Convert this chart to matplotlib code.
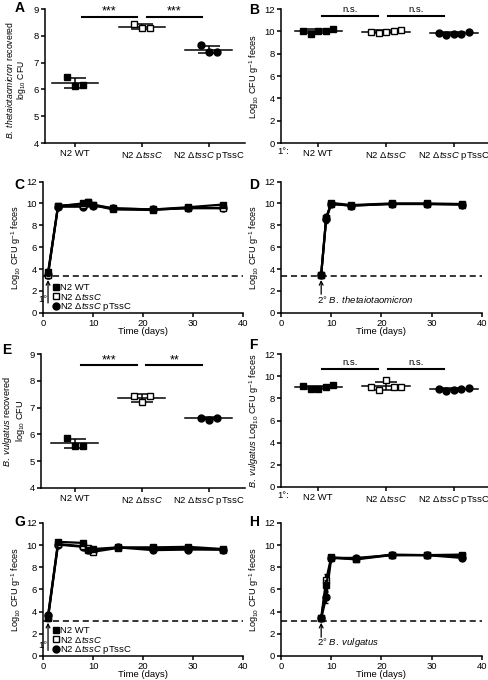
import numpy as np
import matplotlib
matplotlib.use("Agg")
import matplotlib.pyplot as plt
from matplotlib.lines import Line2D

plt.rcParams['font.family'] = ['Liberation Sans', 'DejaVu Sans']
plt.rcParams['mathtext.fontset'] = 'custom'
plt.rcParams['mathtext.rm'] = 'Liberation Sans'
plt.rcParams['mathtext.it'] = 'Liberation Sans:italic'
plt.rcParams['font.size'] = 6.8
plt.rcParams['axes.linewidth'] = 1.1
plt.rcParams['xtick.major.width'] = 1.1
plt.rcParams['ytick.major.width'] = 1.1
plt.rcParams['xtick.major.size'] = 3
plt.rcParams['ytick.major.size'] = 3
plt.rcParams['xtick.major.pad'] = 1.5
plt.rcParams['ytick.major.pad'] = 1.5

# ---------------- data ----------------
groups = ["N2 WT", r"N2 Δ$\it{tssC}$", r"N2 Δ$\it{tssC}$ pTssC"]

# Panel A: B. theta recovered (log10 CFU)
A_wt = [6.47, 6.12, 6.16]
A_dtssc = [8.45, 8.29, 8.29]
A_ptssc = [7.64, 7.40, 7.41]

# Panel B: log10 CFU/g feces, 1° colonizer
B_wt = [10.05, 9.75, 10.0, 10.05, 10.2]
B_dtssc = [9.9, 9.85, 9.9, 10.0, 10.15]
B_ptssc = [9.85, 9.7, 9.75, 9.8, 9.95]

# Panel C: time course 1°
C_days = [1, 3, 8, 9, 10, 14, 22, 29, 36]
C_wt = [3.7, 9.75, 10.0, 10.15, 9.9, 9.55, 9.45, 9.65, 9.9]
C_dtssc = [3.5, 9.8, 9.9, 10.1, 9.85, 9.45, 9.4, 9.6, 9.55]
C_ptssc = [3.5, 9.7, 9.7, 10.05, 9.8, 9.55, 9.45, 9.55, 9.6]
C_err = [0.3, 0.15, 0.15, 0.1, 0.1, 0.1, 0.1, 0.1, 0.1]

# Panel D: time course 2° B. theta
D_days = [8, 9, 10, 14, 22, 29, 36]
D_wt = [3.5, 8.65, 9.95, 9.8, 9.95, 9.95, 9.9]
D_dtssc = [3.5, 8.7, 10.05, 9.85, 10.0, 10.0, 9.95]
D_ptssc = [3.5, 8.6, 9.95, 9.8, 9.95, 9.95, 9.9]
D_err = [0.1, 0.35, 0.1, 0.1, 0.05, 0.05, 0.1]

# Panel E: B. vulgatus recovered
E_wt = [5.85, 5.57, 5.57]
E_dtssc = [7.45, 7.2, 7.45]
E_ptssc = [6.63, 6.55, 6.62]

# Panel F
F_wt = [9.1, 8.84, 8.84, 9.05, 9.2]
F_dtssc = [9.05, 8.8, 9.7, 9.05, 9.05]
F_ptssc = [8.9, 8.7, 8.8, 8.85, 8.95]

# Panel G: time course 1°
G_days = [1, 3, 8, 9, 10, 15, 22, 29, 36]
G_wt = [3.5, 10.3, 10.2, 9.55, 9.65, 9.8, 9.8, 9.85, 9.65]
G_dtssc = [3.4, 10.1, 9.9, 9.7, 9.4, 9.75, 9.75, 9.7, 9.6]
G_ptssc = [3.7, 10.05, 9.85, 9.6, 9.5, 9.8, 9.55, 9.6, 9.6]
G_err = [0.2, 0.2, 0.15, 0.15, 0.15, 0.1, 0.1, 0.1, 0.1]

# Panel H: time course 2° B. vulgatus
H_days = [8, 9, 10, 15, 22, 29, 36]
H_wt = [3.4, 6.4, 8.85, 8.72, 9.1, 9.1, 9.0]
H_dtssc = [3.4, 6.9, 8.9, 8.75, 9.15, 9.1, 9.15]
H_ptssc = [3.4, 5.3, 8.85, 8.85, 9.1, 9.1, 8.85]
H_err = [0.1, 0.5, 0.1, 0.1, 0.1, 0.1, 0.1]

detect_CD = 3.35
detect_GH = 3.2

# ---------------- styling helpers ----------------
styles = [dict(marker='s', mfc='black', mec='black'),
          dict(marker='s', mfc='white', mec='black'),
          dict(marker='o', mfc='black', mec='black')]

fig = plt.figure(figsize=(4.89, 6.80), dpi=100)
YL = 6.6


def clean(ax):
    for s in ['top', 'right']:
        ax.spines[s].set_visible(False)


def dot_panel(ax, data, ylim, yticks, xlim, spread):
    for i, vals in enumerate(data):
        vals = np.asarray(vals)
        n = len(vals)
        xs = i + np.linspace(-spread, spread, n)
        ax.plot(xs, vals, ls='none', ms=5, mew=1.0, zorder=3, **styles[i])
        m = vals.mean()
        sd = vals.std(ddof=1)
        ax.plot([i - 0.35, i + 0.35], [m, m], color='black', lw=1.1, zorder=2)
        ax.errorbar(i, m, yerr=sd, color='black', lw=1.1, capsize=8,
                    capthick=1.1, zorder=2)
    ax.set_xlim(*xlim)
    ax.set_ylim(*ylim)
    ax.set_yticks(yticks)
    ax.set_xticks(range(3))
    ax.set_xticklabels(groups)
    clean(ax)


def sig(ax, x0, x1, y, label, dy):
    ax.plot([x0, x1], [y, y], color='black', lw=1.5, clip_on=False)
    ax.text((x0 + x1) / 2, y + dy, label, ha='center', va='bottom',
            fontsize=6.8 if label == 'n.s.' else 9, clip_on=False)


def time_panel(ax, days, series, err, detect):
    for i, vals in enumerate(series):
        ax.errorbar(days, vals, yerr=err, color='black', lw=1.6,
                    ms=5, mew=1.0, capsize=1.5, zorder=3 + (2 - i),
                    **styles[i])
    ax.axhline(detect, color='black', ls=(0, (4, 2.5)), lw=1.1, zorder=1)
    ax.set_xlim(0, 40)
    ax.set_ylim(0, 12)
    ax.set_xticks([0, 10, 20, 30, 40])
    ax.set_yticks([0, 2, 4, 6, 8, 10, 12])
    ax.set_xlabel('Time (days)', labelpad=-1)
    clean(ax)


def legend(ax):
    handles = [Line2D([], [], ls='none', ms=5, color='black', **styles[i])
               for i in range(3)]
    ax.legend(handles, groups, loc='lower left', bbox_to_anchor=(0.045, -0.01),
              frameon=False, handlelength=0.6, handletextpad=0.15,
              labelspacing=-0.15, borderaxespad=0.0, borderpad=0.1,
              fontsize=6.8)


ylab_feces = r'Log$_{10}$ CFU g$^{-1}$ feces'

# ---------- A ----------
axA = fig.add_axes([0.092, 0.7897, 0.409, 0.197])
dot_panel(axA, [A_wt, A_dtssc, A_ptssc], (4, 9), [4, 5, 6, 7, 8, 9],
          (-0.45, 2.54), 0.12)
axA.set_ylabel(r'$\it{B.\ thetaiotaomicron}$ recovered' + '\n' + r'log$_{10}$ CFU',
               labelpad=2, fontsize=6.2, linespacing=0.95)
axA.yaxis.set_label_coords(-0.085, 0.47)
sig(axA, 0.1, 0.93, 8.72, '***', -0.05)
sig(axA, 1.07, 1.9, 8.72, '***', -0.05)

# ---------- B ----------
axB = fig.add_axes([0.5746, 0.7897, 0.423, 0.197])
dot_panel(axB, [B_wt, B_dtssc, B_ptssc], (0, 12), [0, 2, 4, 6, 8, 10, 12],
          (-0.55, 2.5), 0.22)
axB.set_ylabel(ylab_feces, labelpad=2, fontsize=YL)
sig(axB, 0.06, 0.88, 11.4, 'n.s.', 0.2)
sig(axB, 1.03, 1.85, 11.4, 'n.s.', 0.2)
axB.text(-0.02, -0.028, '1°:', transform=axB.transAxes, ha='left', va='top')

# ---------- C ----------
axC = fig.add_axes([0.088, 0.540, 0.409, 0.193])
time_panel(axC, C_days, [C_wt, C_dtssc, C_ptssc], C_err, detect_CD)
axC.set_ylabel(ylab_feces, labelpad=2, fontsize=YL)
axC.annotate('', xy=(1, 3.0), xytext=(1, 0.9),
             arrowprops=dict(arrowstyle='->', lw=0.9, color='black',
                             shrinkA=0, shrinkB=0))
axC.text(0.85, 1.25, '1°', ha='right', va='center')
legend(axC)

# ---------- D ----------
axD = fig.add_axes([0.5746, 0.540, 0.411, 0.193])
time_panel(axD, D_days, [D_wt, D_dtssc, D_ptssc], D_err, detect_CD)
axD.set_ylabel(ylab_feces, labelpad=2, fontsize=YL)
axD.annotate('', xy=(8, 3.0), xytext=(8, 1.7),
             arrowprops=dict(arrowstyle='->', lw=0.9, color='black',
                             shrinkA=0, shrinkB=0))
axD.text(7.2, 1.2, r'2° $\it{B.\ thetaiotaomicron}$', ha='left', va='center')

# ---------- E ----------
axE = fig.add_axes([0.084, 0.2824, 0.417, 0.197])
dot_panel(axE, [E_wt, E_dtssc, E_ptssc], (4, 9), [4, 5, 6, 7, 8, 9],
          (-0.5, 2.54), 0.12)
axE.set_ylabel(r'$\it{B.\ vulgatus}$ recovered' + '\n' + r'log$_{10}$ CFU',
               labelpad=2, fontsize=YL, linespacing=0.95)
sig(axE, 0.1, 0.93, 8.59, '***', -0.05)
sig(axE, 1.07, 1.9, 8.59, '**', -0.05)

# ---------- F ----------
axF = fig.add_axes([0.5746, 0.284, 0.423, 0.195])
dot_panel(axF, [F_wt, F_dtssc, F_ptssc], (0, 12), [0, 2, 4, 6, 8, 10, 12],
          (-0.55, 2.5), 0.22)
axF.set_ylabel(r'$\it{B.\ vulgatus}$ Log$_{10}$ CFU g$^{-1}$ feces', labelpad=2,
               fontsize=YL)
sig(axF, 0.06, 0.88, 10.65, 'n.s.', 0.2)
sig(axF, 1.03, 1.85, 10.65, 'n.s.', 0.2)
axF.text(-0.02, -0.028, '1°:', transform=axF.transAxes, ha='left', va='top')

# ---------- G ----------
axG = fig.add_axes([0.088, 0.0353, 0.409, 0.1956])
time_panel(axG, G_days, [G_wt, G_dtssc, G_ptssc], G_err, detect_GH)
axG.set_ylabel(ylab_feces, labelpad=2, fontsize=YL)
axG.annotate('', xy=(1, 3.0), xytext=(1, 0.5),
             arrowprops=dict(arrowstyle='->', lw=0.9, color='black',
                             shrinkA=0, shrinkB=0))
axG.text(0.85, 0.95, '1°', ha='right', va='center')
legend(axG)

# ---------- H ----------
axH = fig.add_axes([0.5746, 0.0353, 0.411, 0.1956])
time_panel(axH, H_days, [H_wt, H_dtssc, H_ptssc], H_err, detect_GH)
axH.set_ylabel(ylab_feces, labelpad=2, fontsize=YL)
axH.annotate('', xy=(8, 3.0), xytext=(8, 1.7),
             arrowprops=dict(arrowstyle='->', lw=0.9, color='black',
                             shrinkA=0, shrinkB=0))
axH.text(7.2, 1.2, r'2° $\it{B.\ vulgatus}$', ha='left', va='center')

# panel letters
for lab, (x, y) in {'A': (15, 1), 'B': (249, 3), 'C': (14, 178), 'D': (249, 178),
                    'E': (2, 343), 'F': (249, 338), 'G': (14, 515),
                    'H': (249, 515)}.items():
    fig.text(x / 489, 1 - y / 680, lab, fontsize=10, fontweight='bold',
             ha='left', va='top')

fig.savefig('out.png', dpi=100)
